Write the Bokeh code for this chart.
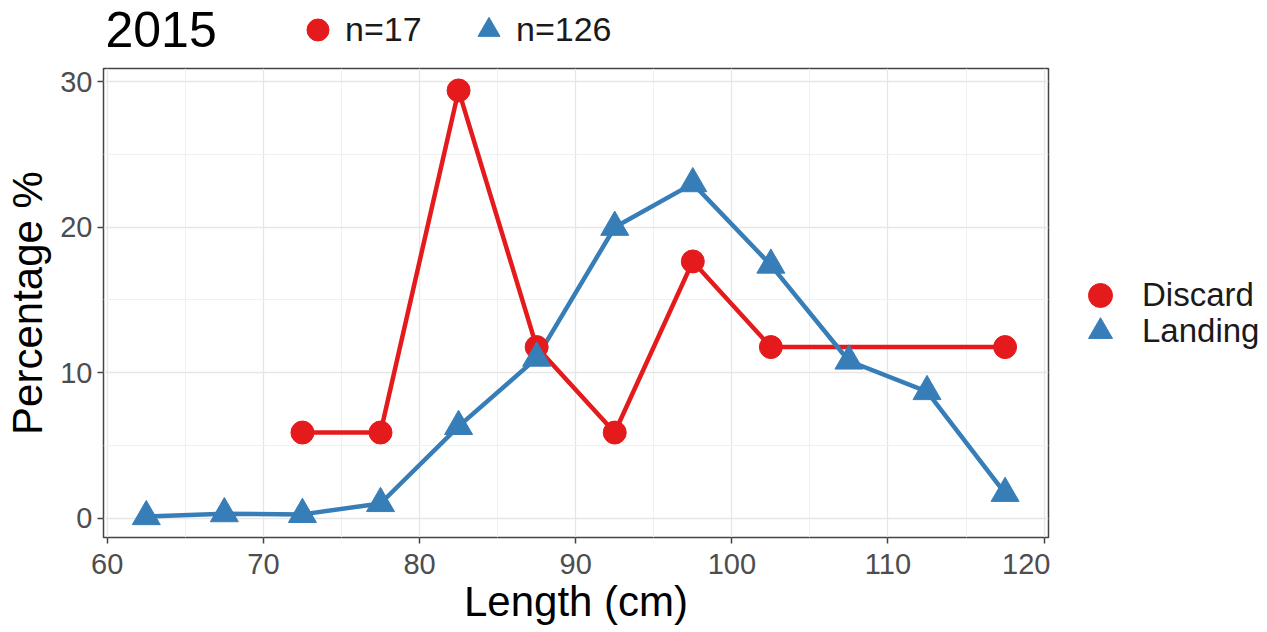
from bokeh.plotting import figure
from bokeh.models import (Range1d, FixedTicker, Legend, LegendItem, Label, ColumnDataSource,
                          Plot, Scatter)
from bokeh.layouts import column, row
from bokeh.embed import file_html
from bokeh.resources import INLINE

# ---- data ----
title_text = "2015"
series = ["Discard", "Landing"]
n_counts = ["n=17", "n=126"]
length_discard = [72.5, 77.5, 82.5, 87.5, 92.5, 97.5, 102.5, 117.5]
pct_discard = [5.88, 5.88, 29.41, 11.76, 5.88, 17.65, 11.76, 11.76]
length_landing = [62.5, 67.5, 72.5, 77.5, 82.5, 87.5, 92.5, 97.5, 102.5, 107.5, 112.5, 117.5]
pct_landing = [0.1, 0.3, 0.25, 1.0, 6.3, 11.0, 20.0, 23.0, 17.4, 10.8, 8.7, 1.7]
x_ticks = [60, 70, 80, 90, 100, 110, 120]
x_minor = [65, 75, 85, 95, 105, 115]
y_ticks = [0, 10, 20, 30]
y_minor = [5, 15, 25]

RED = "#E41A1C"
BLUE = "#377EB8"
FONT = "Liberation Sans"
TXT = "#1A1A1A"

LEFT, FW, FH, RB, LW = 103, 945, 469, 2, 212
TOP, BOTTOM = 8, 95
W = LEFT + FW + RB + LW
HH = 60
PH = TOP + FH + BOTTOM


def blank_plot(w, h):
    pl = Plot(width=w, height=h, x_range=Range1d(0, w), y_range=Range1d(0, h),
              min_border=0, min_border_left=0, min_border_right=0,
              min_border_top=0, min_border_bottom=0,
              toolbar_location=None, output_backend="svg", title=None,
              outline_line_color=None, background_fill_color="white",
              border_fill_color="white")
    kd = pl.add_glyph(ColumnDataSource(dict(x=[-100], y=[-100])),
                      Scatter(x="x", y="y", marker="circle", size=10, fill_color=RED, line_color=RED))
    kl = pl.add_glyph(ColumnDataSource(dict(x=[-100], y=[-100])),
                      Scatter(x="x", y="y", marker="triangle", size=10, fill_color=BLUE, line_color=BLUE))
    return pl, kd, kl


def key(renderer, label, loc, glyph, standoff, fs):
    return Legend(items=[LegendItem(label=label, renderers=[renderer])],
                  location=loc, glyph_width=glyph, glyph_height=glyph,
                  padding=0, margin=0, spacing=0, label_standoff=standoff,
                  border_line_color=None, background_fill_alpha=0,
                  label_text_font=FONT, label_text_font_size=fs,
                  label_text_color=TXT)


# ---------- header: title + sample sizes ----------
h, hd, hl = blank_plot(W, HH)
h.add_layout(key(hd, n_counts[0], (290, 3), 55, 0, "34px"), "center")
h.add_layout(key(hl, n_counts[1], (461, 3), 55, 0, "34px"), "center")
h.add_layout(Label(x=105, y=HH - 28.5, text=title_text, text_font=FONT, text_font_size="50px",
                   text_color="black", text_align="left", text_baseline="middle"))

# ---------- main plot ----------
src_d = ColumnDataSource(dict(x=length_discard, y=pct_discard))
src_l = ColumnDataSource(dict(x=length_landing, y=pct_landing))

p = figure(
    frame_width=FW, frame_height=FH,
    x_range=Range1d(59.76, 120.28), y_range=Range1d(-1.34, 30.92),
    output_backend="svg", toolbar_location=None,
    min_border_left=LEFT, min_border_right=RB, min_border_top=TOP, min_border_bottom=BOTTOM,
    background_fill_color="white", border_fill_color="white",
)
p.outline_line_color = "#444444"
p.outline_line_width = 1.5

p.xaxis.ticker = FixedTicker(ticks=x_ticks, minor_ticks=x_minor)
p.yaxis.ticker = FixedTicker(ticks=y_ticks, minor_ticks=y_minor)

for ax in (p.xaxis, p.yaxis):
    ax.axis_line_color = None
    ax.major_tick_line_color = "#444444"
    ax.major_tick_line_width = 1.5
    ax.major_tick_out = 6
    ax.major_tick_in = 0
    ax.minor_tick_line_color = None
    ax.major_label_text_font = FONT
    ax.major_label_text_font_size = "29px"
    ax.major_label_text_color = "#4D4D4D"
    ax.axis_label_text_font = FONT
    ax.axis_label_text_font_size = "42px"
    ax.axis_label_text_font_style = "normal"
    ax.axis_label_text_color = "black"

p.xaxis.axis_label = "Length (cm)"
p.yaxis.axis_label = "Percentage %"
p.xaxis.major_label_standoff = 10
p.yaxis.major_label_standoff = 5
p.xaxis.axis_label_standoff = 1
p.yaxis.axis_label_standoff = 6

for g in (p.xgrid, p.ygrid):
    g.grid_line_color = "#E6E6E6"
    g.grid_line_width = 1.3
    g.minor_grid_line_color = "#F0F0F0"
    g.minor_grid_line_width = 1.0

p.line("x", "y", source=src_d, line_color=RED, line_width=4.5)
p.line("x", "y", source=src_l, line_color=BLUE, line_width=4.5)
p.scatter("x", "y", source=src_d, marker="circle", size=23, fill_color=RED, line_color=RED)
p.scatter("x", "y", source=src_l, marker="triangle", size=28, fill_color=BLUE, line_color=BLUE)

# ---------- right-hand legend (same height as the main plot) ----------
lg, ld, ll = blank_plot(LW, PH)
lg.add_layout(key(ld, series[0], (20, PH - 360), 60, 12, "33px"), "center")
lg.add_layout(key(ll, series[1], (20, PH - 396), 60, 12, "33px"), "center")

layout = column(h, row(p, lg, spacing=0), spacing=0)
open("out.html", "w").write(file_html(layout, INLINE))
